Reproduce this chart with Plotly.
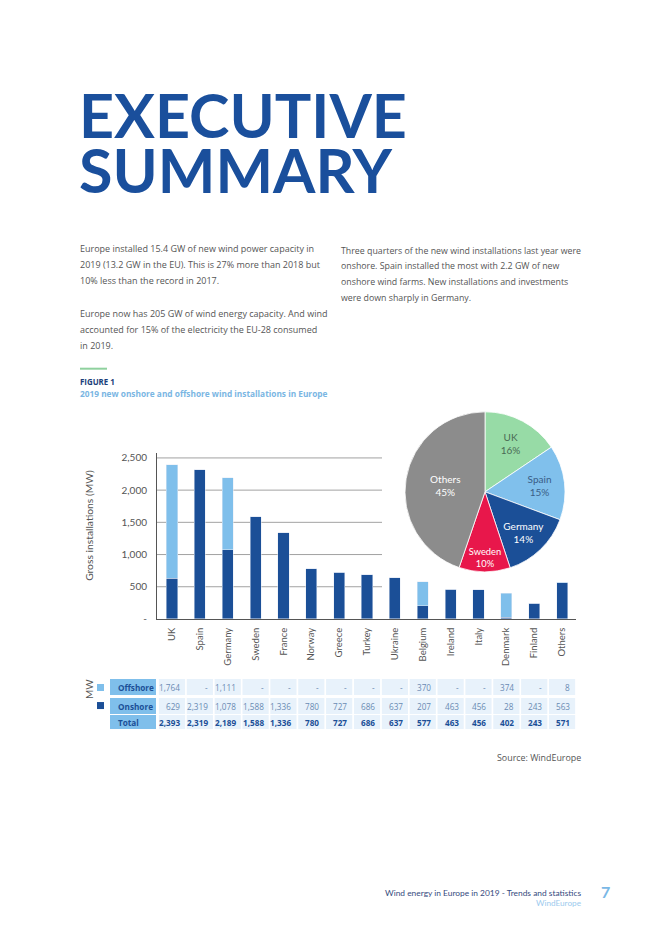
import plotly.graph_objects as go

# ---------------- data ----------------
countries = ["UK", "Spain", "Germany", "Sweden", "France", "Norway", "Greece", "Turkey",
             "Ukraine", "Belgium", "Ireland", "Italy", "Denmark", "Finland", "Others"]
offshore = [1764, 0, 1111, 0, 0, 0, 0, 0, 0, 370, 0, 0, 374, 0, 8]
onshore = [629, 2319, 1078, 1588, 1336, 780, 727, 686, 637, 207, 463, 456, 28, 243, 563]
totals = [2393, 2319, 2189, 1588, 1336, 780, 727, 686, 637, 577, 463, 456, 402, 243, 571]

y_ticks = [0, 500, 1000, 1500, 2000, 2500]
y_ticktext = ["-", "500", "1,000", "1,500", "2,000", "2,500"]

pie_labels = ["UK", "Spain", "Germany", "Sweden", "Others"]
pie_values = totals[:4] + [sum(totals) - sum(totals[:4])]

row_names = ["Offshore", "Onshore", "Total"]

# ---------------- style ----------------
W, H = 662, 936
OFF = 8  # page body margin of the html page
DARK = "#1b4f97"
LIGHT = "#7fbfeb"
TITLE_BLUE = "#1a4f9c"
GREY_TXT = "#555555"
BODY_FONT = "Open Sans"
CHART_FONT = "Lato"


def fx(x):
    return (x - OFF) / W


def fy(y):
    yy = y - OFF + 0.0075 * (y - 100)
    return 1 - yy / H


fig = go.Figure()

# stacked bars
fig.add_trace(go.Bar(x=countries, y=onshore, name="Onshore", marker_color=DARK,
                     width=0.4, showlegend=False))
fig.add_trace(go.Bar(x=countries, y=offshore, name="Offshore", marker_color=LIGHT,
                     width=0.4, showlegend=False))

# pie
fig.add_trace(go.Pie(
    labels=pie_labels, values=pie_values, sort=False, direction="clockwise", rotation=0,
    marker=dict(colors=["#97dba6", "#80c0ec", "#1b4f97", "#e8174b", "#8c8c8c"],
                line=dict(color="white", width=0.8)),
    texttemplate="%{label}<br>%{percent:.0%}", textposition="inside",
    insidetextorientation="horizontal",
    textfont=dict(family=CHART_FONT, size=10,
                  color=["#4a6a55", "#3a5d86", "white", "white", "white"]),
    domain=dict(x=[fx(405), fx(565)], y=[fy(571), fy(411)]),
    showlegend=False, hoverinfo="label+percent"))

shapes = []
ann = []


def text(x, y, s, size, color, family=BODY_FONT, xanchor="left", bold=False, **kw):
    ann.append(dict(x=fx(x), y=fy(y), xref="paper", yref="paper", text=s, showarrow=False,
                    xanchor=xanchor, yanchor="middle",
                    font=dict(family=family, size=size, color=color,
                              weight="bold" if bold else "normal"), **kw))


# gridlines (partial width, as in the reference)
for v in y_ticks[1:]:
    shapes.append(dict(type="line", xref="x domain", yref="y", x0=0, x1=0.537, y0=v, y1=v,
                       line=dict(color="#8a8a8a", width=0.8), layer="below"))

# ---------------- data table under the bars ----------------
def fmt(v):
    return f"{v:,}" if v else "-"

CELL_FILL = "#e8f2fb"
VAL_COL = "#6a8bb3"
row_box = {"Offshore": (678, 694), "Onshore": (697, 713), "Total": (714, 728)}
row_vals = {"Offshore": offshore, "Onshore": onshore, "Total": totals}
for r in row_names:
    y0, y1 = row_box[r]
    yc = (y0 + y1) / 2
    shapes.append(dict(type="rect", xref="paper", yref="paper", x0=fx(110), x1=fx(156),
                       y0=fy(y1), y1=fy(y0), fillcolor=LIGHT, line=dict(width=0)))
    text(116, yc, f"<b>{r}</b>", 8.2, DARK)
    for i, c in enumerate(countries):
        shapes.append(dict(type="rect", xref="x", yref="paper", x0=i - 0.47, x1=i + 0.47,
                           y0=fy(y1), y1=fy(y0), fillcolor=CELL_FILL, line=dict(width=0),
                           layer="below"))
        v = row_vals[r][i]
        s = f"<b>{v:,}</b>" if r == "Total" else fmt(v)
        ann.append(dict(x=c, y=fy(yc), xref="x", yref="paper", text=s, showarrow=False,
                        xanchor="right", yanchor="middle", xshift=10,
                        font=dict(family=BODY_FONT, size=8.2,
                                  color=DARK if r == "Total" else VAL_COL)))

# legend squares + green rule
shapes.append(dict(type="rect", xref="paper", yref="paper", x0=fx(97), x1=fx(104),
                   y0=fy(690), y1=fy(683), fillcolor=LIGHT, line=dict(width=0)))
shapes.append(dict(type="rect", xref="paper", yref="paper", x0=fx(97), x1=fx(104),
                   y0=fy(708), y1=fy(701), fillcolor=DARK, line=dict(width=0)))
shapes.append(dict(type="line", xref="paper", yref="paper", x0=fx(80), x1=fx(107),
                   y0=fy(368), y1=fy(368), line=dict(color="#8fd19e", width=2)))

text(77, 114, "EXECUTIVE", 61, TITLE_BLUE, family="Lato", bold=True)
text(77, 169, "SUMMARY", 61, TITLE_BLUE, family="Lato", bold=True)

left_lines = ["Europe installed 15.4 GW of new wind power capacity in",
              "2019 (13.2 GW in the EU). This is 27% more than 2018 but",
              "10% less than the record in 2017.",
              None,
              "Europe now has 205 GW of wind energy capacity. And wind",
              "accounted for 15% of the electricity the EU-28 consumed",
              "in 2019."]
right_lines = ["Three quarters of the new wind installations last year were",
               "onshore. Spain installed the most with 2.2 GW of new",
               "onshore wind farms. New installations and investments",
               "were down sharply in Germany."]
for i, s in enumerate(left_lines):
    if s:
        text(78, 248 + i * 16.2, s, 9.0, GREY_TXT)
for i, s in enumerate(right_lines):
    if s:
        text(339, 250 + i * 15.7, s, 8.8, GREY_TXT)

text(78, 381, "<b>FIGURE 1</b>", 7.9, "#1b3f7a")
text(78, 393, "2019 new onshore and offshore wind installations in Europe", 8.3, "#7ab6e3",
     bold=True)

text(89, 525, "Gross installations (MW)", 10.3, GREY_TXT, family=CHART_FONT,
     xanchor="center", textangle=-90)
text(89, 688, "MW", 10, GREY_TXT, family=CHART_FONT, xanchor="center", textangle=-90)

text(583, 756, "Source: WindEurope", 8.9, GREY_TXT, xanchor="right")
text(583, 892, "Wind energy in Europe in 2019 - Trends and statistics", 8.4, "#354a7e",
     family=CHART_FONT, xanchor="right")
text(583, 902, "WindEurope", 8.2, "#9ccaee", family=CHART_FONT, xanchor="right")
text(605, 890, "<b>7</b>", 16, "#7ab8e6", family=CHART_FONT, xanchor="center")

fig.update_layout(
    width=W, height=H, margin=dict(l=0, r=0, t=0, b=0),
    paper_bgcolor="white", plot_bgcolor="rgba(0,0,0,0)",
    barmode="stack",
    xaxis=dict(domain=[fx(157), fx(576)], tickangle=-90, showgrid=False,
               showline=True, linecolor="#555555", linewidth=1,
               tickfont=dict(family=CHART_FONT, size=9.5, color=GREY_TXT),
               ticks="", ticklabelstandoff=4),
    yaxis=dict(domain=[fy(618), fy(452)], range=[0, 2580], tickvals=y_ticks,
               ticktext=y_ticktext, showgrid=False, zeroline=False,
               showline=True, linecolor="#555555", linewidth=1,
               tickfont=dict(family=CHART_FONT, size=10, color=GREY_TXT),
               ticks="", ticklabelstandoff=7),
    shapes=shapes, annotations=ann,
)

fig.write_html("out.html")
